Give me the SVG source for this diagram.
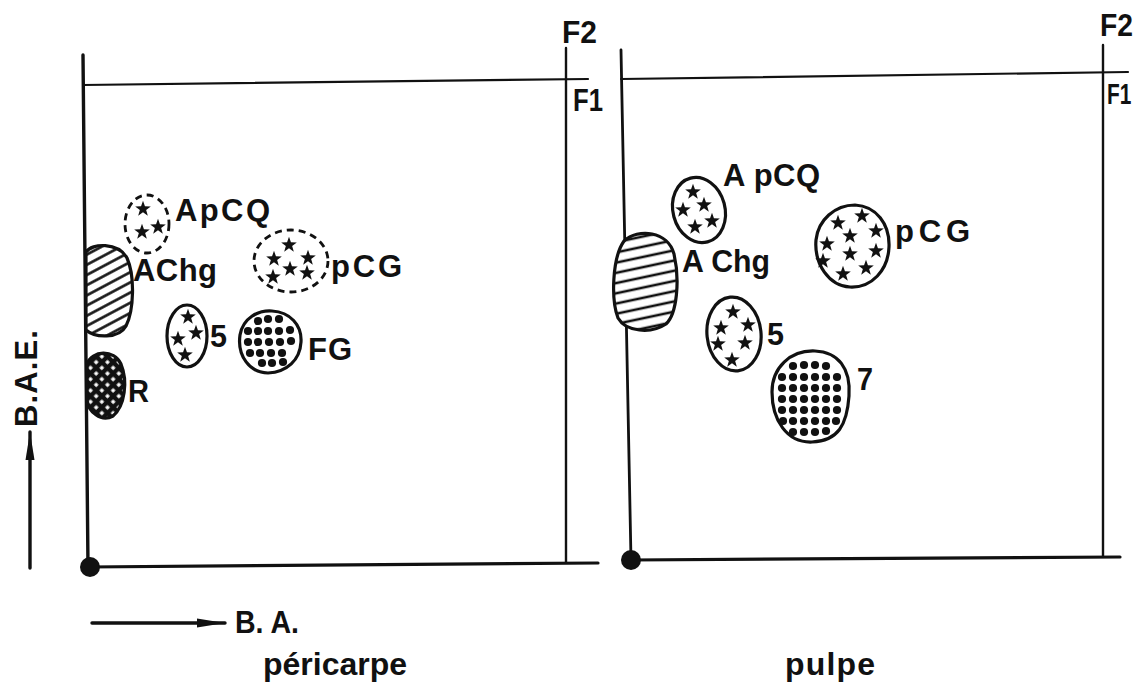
<svg xmlns="http://www.w3.org/2000/svg" xmlns:xlink="http://www.w3.org/1999/xlink" width="1139" height="684" viewBox="0 0 1139 684">
<style>
text{font-family:"Liberation Sans",Arial,sans-serif;font-weight:bold;fill:#111;font-size:31px}
.ax{stroke:#111;fill:none;stroke-linecap:round}
.ol{stroke:#111;stroke-width:3.2;fill:#fff}
.dash{stroke:#111;stroke-width:2.8;fill:#fff;stroke-dasharray:7 5}
.st{fill:#111}
</style>
<defs>
<polygon id="star" points="0,-8.2 1.95,-2.7 7.8,-2.55 3.15,1.0 4.82,6.65 0,3.3 -4.82,6.65 -3.15,1.0 -7.8,-2.55 -1.95,-2.7"/>
<circle id="dot" r="4.1"/>
<marker id="arr" viewBox="0 0 28 10" refX="28" refY="5" markerWidth="28" markerHeight="10" markerUnits="userSpaceOnUse" orient="auto">
<path d="M0,0.5 L28,5 L0,9.5 Z" fill="#111"/>
</marker>
<pattern id="hatchL" width="9" height="9" patternUnits="userSpaceOnUse" patternTransform="rotate(-28)">
<rect width="9" height="9" fill="#fff"/>
<line x1="0" y1="4.5" x2="9" y2="4.5" stroke="#111" stroke-width="2.6"/>
</pattern>
<pattern id="hatchR" width="10" height="10" patternUnits="userSpaceOnUse" patternTransform="rotate(-12)">
<rect width="10" height="10" fill="#fff"/>
<line x1="0" y1="5" x2="10" y2="5" stroke="#111" stroke-width="2.6"/>
</pattern>
<pattern id="cross" width="8" height="8" patternUnits="userSpaceOnUse" patternTransform="rotate(45)">
<rect width="8" height="8" fill="#111"/>
<rect x="2.4" y="2.4" width="3.4" height="3.4" fill="#fff"/>
</pattern>
</defs>
<rect width="1139" height="684" fill="#fff"/>

<g id="axes">
<line class="ax" x1="83" y1="55" x2="88" y2="567" stroke-width="3.4"/>
<line class="ax" x1="83" y1="85" x2="588" y2="79" stroke-width="2.2"/>
<line class="ax" x1="566" y1="48" x2="566" y2="562" stroke-width="2.4"/>
<line class="ax" x1="88" y1="567" x2="598" y2="563" stroke-width="3.2"/>
<circle cx="90" cy="567" r="10" fill="#111"/>
<line class="ax" x1="621" y1="50" x2="631" y2="560" stroke-width="2.8"/>
<line class="ax" x1="621" y1="79" x2="1128" y2="72" stroke-width="2.2"/>
<line class="ax" x1="1103" y1="45" x2="1103" y2="556" stroke-width="2.4"/>
<line class="ax" x1="631" y1="560" x2="1120" y2="557" stroke-width="3.2"/>
<circle cx="631" cy="560" r="10" fill="#111"/>
<line class="ax" x1="30" y1="568" x2="30" y2="432" stroke-width="3.4" marker-end="url(#arr)"/>
<line class="ax" x1="92" y1="623" x2="225" y2="623" stroke-width="3.4" marker-end="url(#arr)"/>
</g>

<g id="labels">
<text x="562" y="43" textLength="35" lengthAdjust="spacingAndGlyphs">F2</text>
<text x="573" y="111" textLength="30" lengthAdjust="spacingAndGlyphs">F1</text>
<text x="1100" y="36" textLength="33" lengthAdjust="spacingAndGlyphs">F2</text>
<text transform="translate(1107,104) scale(0.72,1)" style="font-size:29px">F1</text>
<text transform="translate(37,427) rotate(-90)" textLength="97">B.A.E.</text>
<text x="235" y="633" textLength="64" lengthAdjust="spacingAndGlyphs">B. A.</text>
<text x="263" y="675" style="font-size:32px" textLength="144">péricarpe</text>
<text x="785" y="675" style="font-size:32px" textLength="90">pulpe</text>
</g>

<g id="L-ApCQ">
<ellipse class="dash" cx="147" cy="224" rx="22" ry="29"/>
<use href="#star" class="st" x="143" y="209"/>
<use href="#star" class="st" x="142" y="232"/>
<use href="#star" class="st" x="158" y="227"/>
<text x="175" y="221" textLength="95">ApCQ</text>
</g>
<g id="L-AChg">
<path d="M86,252 C92,243 118,242 127,258 C135,276 134,310 126,326 C119,339 95,338 86,330 Z" fill="url(#hatchL)" stroke="#111" stroke-width="3.2"/>
<text x="133" y="281" textLength="84">AChg</text>
</g>
<g id="L-pCG">
<ellipse class="dash" cx="291" cy="261" rx="37" ry="31"/>
<use href="#star" class="st" x="289" y="245"/>
<use href="#star" class="st" x="274" y="259"/>
<use href="#star" class="st" x="308" y="258"/>
<use href="#star" class="st" x="273" y="277"/>
<use href="#star" class="st" x="290" y="269"/>
<use href="#star" class="st" x="307" y="273"/>
<text x="331" y="277" textLength="71">pCG</text>
</g>
<g id="L-5">
<ellipse class="ol" cx="187" cy="336" rx="20" ry="31"/>
<use href="#star" class="st" x="188" y="317"/>
<use href="#star" class="st" x="178" y="339"/>
<use href="#star" class="st" x="196" y="333"/>
<use href="#star" class="st" x="185" y="355"/>
<text x="210" y="347" textLength="17" lengthAdjust="spacingAndGlyphs">5</text>
</g>
<g id="L-FG">
<path class="ol" d="M240,335 C243,318 258,310 272,311 C290,312 302,325 301,342 C300,360 287,372 268,373 C250,373 237,356 240,335 Z"/>
<g class="st">
<use href="#dot" x="258" y="321"/><use href="#dot" x="268" y="319"/><use href="#dot" x="279" y="319"/>
<use href="#dot" x="248" y="331"/><use href="#dot" x="258" y="331"/><use href="#dot" x="268" y="331"/><use href="#dot" x="279" y="331"/><use href="#dot" x="290" y="330"/>
<use href="#dot" x="248" y="342"/><use href="#dot" x="258" y="342"/><use href="#dot" x="269" y="342"/><use href="#dot" x="280" y="342"/><use href="#dot" x="291" y="341"/>
<use href="#dot" x="250" y="353"/><use href="#dot" x="260" y="353"/><use href="#dot" x="271" y="353"/><use href="#dot" x="282" y="353"/>
<use href="#dot" x="262" y="363"/><use href="#dot" x="272" y="363"/><use href="#dot" x="283" y="362"/>
</g>
<text x="308" y="360" textLength="44">FG</text>
</g>
<g id="L-R">
<path d="M87,364 C92,350 114,349 121,364 C128,381 125,406 113,416 C101,423 88,411 87,400 Z" fill="url(#cross)" stroke="#111" stroke-width="3.2"/>
<text x="128" y="402" textLength="21" lengthAdjust="spacingAndGlyphs">R</text>
</g>

<g id="R-ApCQ">
<ellipse class="ol" cx="699" cy="210" rx="26" ry="33" transform="rotate(-15 699 210)"/>
<use href="#star" class="st" x="693" y="192"/>
<use href="#star" class="st" x="704" y="205"/>
<use href="#star" class="st" x="683" y="210"/>
<use href="#star" class="st" x="712" y="221"/>
<use href="#star" class="st" x="695" y="227"/>
<text x="723" y="186" textLength="97">A pCQ</text>
</g>
<g id="R-AChg">
<path d="M624,241 C638,228 668,231 674,254 C680,280 677,314 666,324 C651,334 626,332 618,318 C611,300 612,258 624,241 Z" fill="url(#hatchR)" stroke="#111" stroke-width="3.2"/>
<text x="682" y="272" textLength="88" lengthAdjust="spacingAndGlyphs">A Chg</text>
</g>
<g id="R-pCG">
<path class="ol" d="M816,240 C818,220 835,205 855,205 C876,206 890,224 889,247 C888,270 872,288 850,287 C829,286 814,264 816,240 Z"/>
<use href="#star" class="st" x="838" y="223"/>
<use href="#star" class="st" x="862" y="216"/>
<use href="#star" class="st" x="876" y="231"/>
<use href="#star" class="st" x="850" y="236"/>
<use href="#star" class="st" x="827" y="244"/>
<use href="#star" class="st" x="876" y="251"/>
<use href="#star" class="st" x="850" y="254"/>
<use href="#star" class="st" x="823" y="261"/>
<use href="#star" class="st" x="866" y="268"/>
<use href="#star" class="st" x="843" y="274"/>
<text x="895" y="242" textLength="75">pCG</text>
</g>
<g id="R-5">
<ellipse class="ol" cx="734" cy="334" rx="27" ry="37" transform="rotate(-6 734 334)"/>
<use href="#star" class="st" x="733" y="312"/>
<use href="#star" class="st" x="721" y="328"/>
<use href="#star" class="st" x="748" y="325"/>
<use href="#star" class="st" x="718" y="344"/>
<use href="#star" class="st" x="745" y="343"/>
<use href="#star" class="st" x="732" y="360"/>
<text x="767" y="345" textLength="17" lengthAdjust="spacingAndGlyphs">5</text>
</g>
<g id="R-7">
<path class="ol" d="M772,392 C772,368 790,350 815,351 C838,352 851,368 849,396 C847,425 838,441 812,442 C787,443 772,420 772,392 Z"/>
<g class="st">
<use href="#dot" x="793" y="366"/><use href="#dot" x="804" y="365"/><use href="#dot" x="815" y="365"/><use href="#dot" x="826" y="366"/>
<use href="#dot" x="782" y="377"/><use href="#dot" x="793" y="377"/><use href="#dot" x="804" y="377"/><use href="#dot" x="815" y="377"/><use href="#dot" x="826" y="377"/><use href="#dot" x="837" y="377"/>
<use href="#dot" x="782" y="388"/><use href="#dot" x="793" y="388"/><use href="#dot" x="804" y="388"/><use href="#dot" x="815" y="388"/><use href="#dot" x="826" y="388"/><use href="#dot" x="837" y="388"/>
<use href="#dot" x="782" y="399"/><use href="#dot" x="793" y="399"/><use href="#dot" x="804" y="399"/><use href="#dot" x="815" y="399"/><use href="#dot" x="826" y="399"/><use href="#dot" x="837" y="399"/>
<use href="#dot" x="782" y="410"/><use href="#dot" x="793" y="410"/><use href="#dot" x="804" y="410"/><use href="#dot" x="815" y="410"/><use href="#dot" x="826" y="410"/><use href="#dot" x="837" y="410"/>
<use href="#dot" x="783" y="421"/><use href="#dot" x="793" y="421"/><use href="#dot" x="804" y="421"/><use href="#dot" x="815" y="421"/><use href="#dot" x="826" y="421"/><use href="#dot" x="836" y="421"/>
<use href="#dot" x="793" y="432"/><use href="#dot" x="804" y="432"/><use href="#dot" x="815" y="432"/><use href="#dot" x="826" y="431"/>
</g>
<text x="857" y="390" textLength="16" lengthAdjust="spacingAndGlyphs">7</text>
</g>
</svg>
